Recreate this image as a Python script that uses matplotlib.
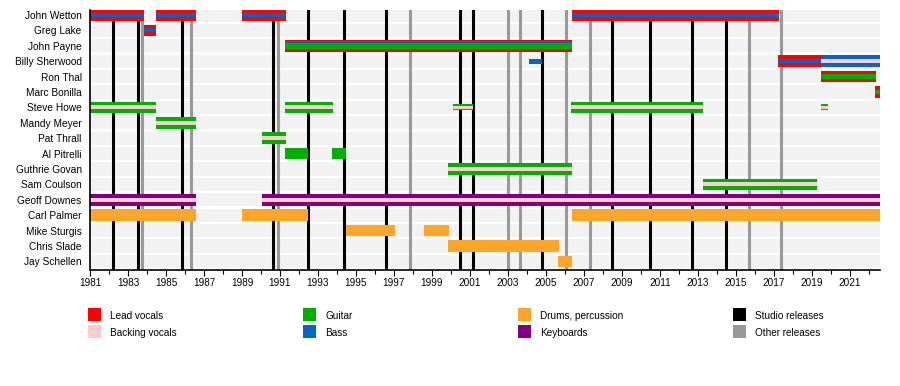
import matplotlib.pyplot as plt
from matplotlib.patches import Rectangle

plt.rcParams['font.family'] = ['Liberation Sans', 'DejaVu Sans']

# member rows, top to bottom
members = ["John Wetton", "Greg Lake", "John Payne", "Billy Sherwood", "Ron Thal",
           "Marc Bonilla", "Steve Howe", "Mandy Meyer", "Pat Thrall", "Al Pitrelli",
           "Guthrie Govan", "Sam Coulson", "Geoff Downes", "Carl Palmer",
           "Mike Sturgis", "Chris Slade", "Jay Schellen"]

# (member, start, end, roles from outer to inner)
spans = [
    ("John Wetton", 1981.0, 1983.84, ["lead", "bass"]),
    ("John Wetton", 1984.47, 1986.56, ["lead", "bass"]),
    ("John Wetton", 1989.0, 1991.3, ["lead", "bass"]),
    ("John Wetton", 2006.35, 2017.26, ["lead", "bass"]),
    ("Greg Lake", 1983.84, 1984.5, ["lead", "bass"]),
    ("John Payne", 1991.26, 2006.37, ["lead", "bass", "guitar"]),
    ("Billy Sherwood", 2017.22, 2019.47, ["lead", "bass"]),
    ("Billy Sherwood", 2019.47, 2022.6, ["bass", "backing"]),
    ("Ron Thal", 2019.47, 2022.37, ["lead", "guitar"]),
    ("Marc Bonilla", 2022.3, 2022.6, ["lead", "guitar"]),
    ("Steve Howe", 1981.0, 1984.5, ["guitar", "backing"]),
    ("Steve Howe", 1991.26, 1993.77, ["guitar", "backing"]),
    ("Steve Howe", 2006.3, 2013.25, ["guitar", "backing"]),
    ("Mandy Meyer", 1984.5, 1986.56, ["guitar", "backing"]),
    ("Pat Thrall", 1990.07, 1991.3, ["guitar", "backing"]),
    ("Al Pitrelli", 1991.26, 1992.5, ["guitar"]),
    ("Al Pitrelli", 1993.75, 1994.5, ["guitar"]),
    ("Guthrie Govan", 1999.86, 2006.35, ["guitar", "backing"]),
    ("Sam Coulson", 2013.25, 2019.25, ["guitar", "backing"]),
    ("Geoff Downes", 1981.0, 1986.56, ["keys", "backing"]),
    ("Geoff Downes", 1990.07, 2022.6, ["keys", "backing"]),
    ("Carl Palmer", 1981.0, 1986.56, ["drums"]),
    ("Carl Palmer", 1989.0, 1992.5, ["drums"]),
    ("Carl Palmer", 2006.35, 2022.6, ["drums"]),
    ("Mike Sturgis", 1994.47, 1997.08, ["drums"]),
    ("Mike Sturgis", 1998.58, 1999.89, ["drums"]),
    ("Chris Slade", 1999.86, 2005.67, ["drums"]),
    ("Jay Schellen", 2005.65, 2006.35, ["drums"]),
]

# short guest spots drawn thinner
thin_spans = [
    ("Billy Sherwood", 2004.1, 2004.8, ["bass"]),
    ("Steve Howe", 2000.12, 2001.14, ["guitar", "backing"]),
    ("Steve Howe", 2019.47, 2019.84, ["guitar", "backing"]),
]

studio_releases = [1982.23, 1983.54, 1985.86, 1990.65, 1992.49, 1994.39, 1996.6,
                   2000.47, 2001.18, 2004.82, 2008.46, 2010.47, 2012.67, 2014.46]
other_releases = [1983.72, 1986.3, 1990.91, 1997.86, 2002.98, 2003.63, 2006.05,
                  2007.32, 2015.7, 2017.37]

colors = {"lead": "#ff0000", "backing": "#ffcccc", "guitar": "#00b000",
          "bass": "#0066cc", "drums": "#ffa52a", "keys": "#800080"}

legend_rows = [[("Lead vocals", "lead"), ("Guitar", "guitar"),
                ("Drums, percussion", "drums"), ("Studio releases", "studio")],
               [("Backing vocals", "backing"), ("Bass", "bass"),
                ("Keyboards", "keys"), ("Other releases", "other")]]

fig = plt.figure(figsize=(9, 3.86), dpi=100)
ax = fig.add_axes([0.1, 0.3005, 0.878, 0.6736])
ax.set_xlim(1981, 2022.6)
ax.set_ylim(16.56, -0.32)

# light row bands
for i in range(len(members)):
    ax.axhspan(i - 0.43, i + 0.43, color="#f2f2f2", lw=0, zorder=0)

for x in other_releases:
    ax.axvline(x, color="#999999", lw=2.2, zorder=1)
for x in studio_releases:
    ax.axvline(x, color="black", lw=2.2, zorder=1)


def draw(rows, heights_by_n):
    for name, start, end, roles in rows:
        y = members.index(name)
        hs = heights_by_n[len(roles)]
        for role, h in zip(roles, hs):
            ax.barh(y, end - start, left=start, height=h,
                    color=colors[role], lw=0, zorder=2)


draw(spans, {1: [0.75], 2: [0.75, 0.27], 3: [0.75, 0.55, 0.36]})
draw(thin_spans, {1: [0.33], 2: [0.4, 0.22]})

ax.set_yticks(range(len(members)))
ax.set_yticklabels(members, fontsize=7.3)
ax.tick_params(axis="y", length=0, pad=6)

ax.set_xticks(range(1981, 2023, 2))
ax.set_xticks(range(1981, 2023), minor=True)
ax.tick_params(axis="x", labelsize=7.2, length=4, width=0.8, pad=2)
ax.tick_params(axis="x", which="minor", length=3, width=0.8)

for s in ["top", "right"]:
    ax.spines[s].set_visible(False)
ax.spines["left"].set_linewidth(1.2)
ax.spines["bottom"].set_linewidth(1.2)

# legend below the chart
col_x = [88, 303, 518, 733]
row_y = [308, 325]
for r, row in enumerate(legend_rows):
    for c, (label, key) in enumerate(row):
        if key == "studio":
            col = "black"
        elif key == "other":
            col = "#999999"
        else:
            col = colors[key]
        x0 = col_x[c] / 900
        y0 = 1 - (row_y[r] + 13) / 386
        fig.add_artist(Rectangle((x0, y0), 13 / 900, 13 / 386, color=col,
                                 lw=0, transform=fig.transFigure))
        fig.text((col_x[c] + 22) / 900, 1 - (row_y[r] + 8) / 386, label,
                 fontsize=7.2, va="center", ha="left")

plt.savefig("out.png", dpi=100)
